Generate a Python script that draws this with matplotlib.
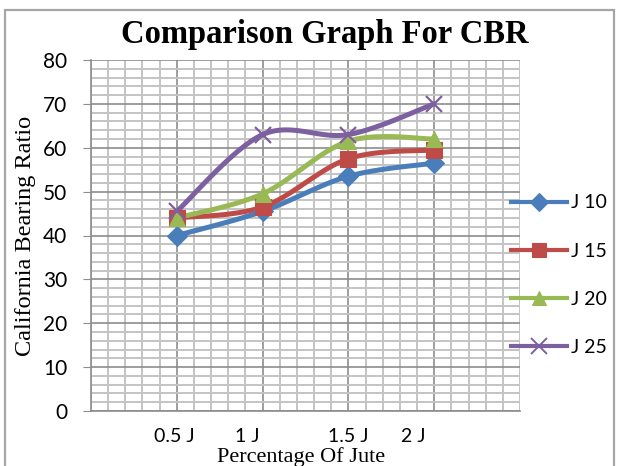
import numpy as np
import matplotlib.pyplot as plt
import matplotlib.transforms as mtransforms
from matplotlib.patches import Rectangle
from matplotlib.ticker import MultipleLocator

# Jute content (%) and CBR values for each mix
jute_pct = [0.5, 1.0, 1.5, 2.0]
jute_labels = ['0.5 J', '1 J', '1.5 J', '2 J']
j10 = [40, 45.5, 53.5, 56.5]
j15 = [44, 46.5, 57.5, 59.5]
j20 = [44, 49.5, 61.5, 62]
j25 = [45.5, 63, 63, 70]

series = [
    ('J 10', j10, '#4a7ebb', 'D', 10),
    ('J 15', j15, '#be4b48', 's', 11),
    ('J 20', j20, '#98b954', '^', 11),
    ('J 25', j25, '#7d60a0', 'x', 12),
]


def smooth(x, y, n=30):
    # excel style smoothed line (catmull-rom through the points)
    p = np.column_stack([x, y]).astype(float)
    p = np.vstack([p[0], p, p[-1]])
    out = []
    t = np.linspace(0, 1, n)[:, None]
    for i in range(1, len(p) - 2):
        p0, p1, p2, p3 = p[i - 1], p[i], p[i + 1], p[i + 2]
        c1 = p1 + (p2 - p0) / 6
        c2 = p2 - (p3 - p1) / 6
        seg = ((1 - t) ** 3) * p1 + 3 * ((1 - t) ** 2) * t * c1 + 3 * (1 - t) * t ** 2 * c2 + t ** 3 * p2
        out.append(seg)
    out = np.vstack(out)
    return out[:, 0], out[:, 1]


fig = plt.figure(figsize=(6.21, 4.66), dpi=100)
ax = fig.add_axes([91 / 621, 1 - 411 / 466, 429 / 621, 351 / 466])

# chart border
fig.patches.append(Rectangle((5 / 621, -0.05), 609 / 621, 1.05 - 10 / 466, transform=fig.transFigure,
                             fill=False, edgecolor='#a6a6a6', linewidth=1.6))

ax.set_xlim(0, 2.5)
ax.set_ylim(0, 80)
ax.xaxis.set_major_locator(MultipleLocator(0.5))
ax.xaxis.set_minor_locator(MultipleLocator(0.1))
ax.yaxis.set_major_locator(MultipleLocator(10))
ax.yaxis.set_minor_locator(MultipleLocator(2))
ax.grid(which='minor', color='#c4c4c4', linewidth=1.4)
ax.grid(which='major', color='#8c8c8c', linewidth=1.2)
ax.set_axisbelow(True)

for s in ['top', 'right']:
    ax.spines[s].set_visible(False)
for s in ['left', 'bottom']:
    ax.spines[s].set_color('#8c8c8c')
    ax.spines[s].set_linewidth(1.2)

ax.tick_params(axis='y', which='major', length=6, color='#8c8c8c', labelsize=15, pad=11)
ax.tick_params(axis='y', which='minor', length=0)
ax.tick_params(axis='x', which='both', length=0, labelsize=14, pad=12)
ax.set_xticks(jute_pct)
ax.set_xticklabels(jute_labels)
for lab in ax.get_yticklabels() + ax.get_xticklabels():
    lab.set_fontfamily('Lato')

# shift category labels the way they sit under the axis
shifts = [-2, -15, 0, -21]
for lab, dx in zip(ax.get_xticklabels(), shifts):
    lab.set_transform(lab.get_transform() + mtransforms.ScaledTranslation(dx / 100, 0, fig.dpi_scale_trans))

handles = []
for name, vals, col, mk, ms in series:
    sx, sy = smooth(jute_pct, vals)
    ax.plot(sx, sy, color=col, linewidth=3.6, solid_capstyle='round', zorder=3)
    ax.plot(jute_pct, vals, linestyle='none', marker=mk, markersize=ms, color=col,
            markeredgewidth=1.6 if mk == 'x' else 0.8, zorder=4)
    h, = ax.plot([], [], color=col, linewidth=3.0, marker=mk, markersize=ms - 1,
                 markeredgewidth=1.4 if mk == 'x' else 0.8)
    handles.append(h)

fig.legend(handles, [s[0] for s in series], loc='upper left', bbox_to_anchor=(493 / 621, 1 - 177 / 466),
           frameon=False, handlelength=2.9, handletextpad=0.2, labelspacing=1.6,
           prop={'family': 'Lato', 'size': 14})

fig.text(0.523, 1 - 35 / 466, 'Comparison Graph For CBR', ha='center', va='center',
         fontfamily='Liberation Serif', fontweight='bold', fontsize=23.5)
ax.set_ylabel('California Bearing Ratio', fontfamily='Liberation Serif', fontsize=17.5)
ax.yaxis.set_label_coords(-0.128, 0.5)
ax.set_xlabel('Percentage Of Jute', fontfamily='Liberation Serif', fontsize=16)
ax.xaxis.set_label_coords(0.49, -0.102)

fig.savefig('out.png', dpi=100)
